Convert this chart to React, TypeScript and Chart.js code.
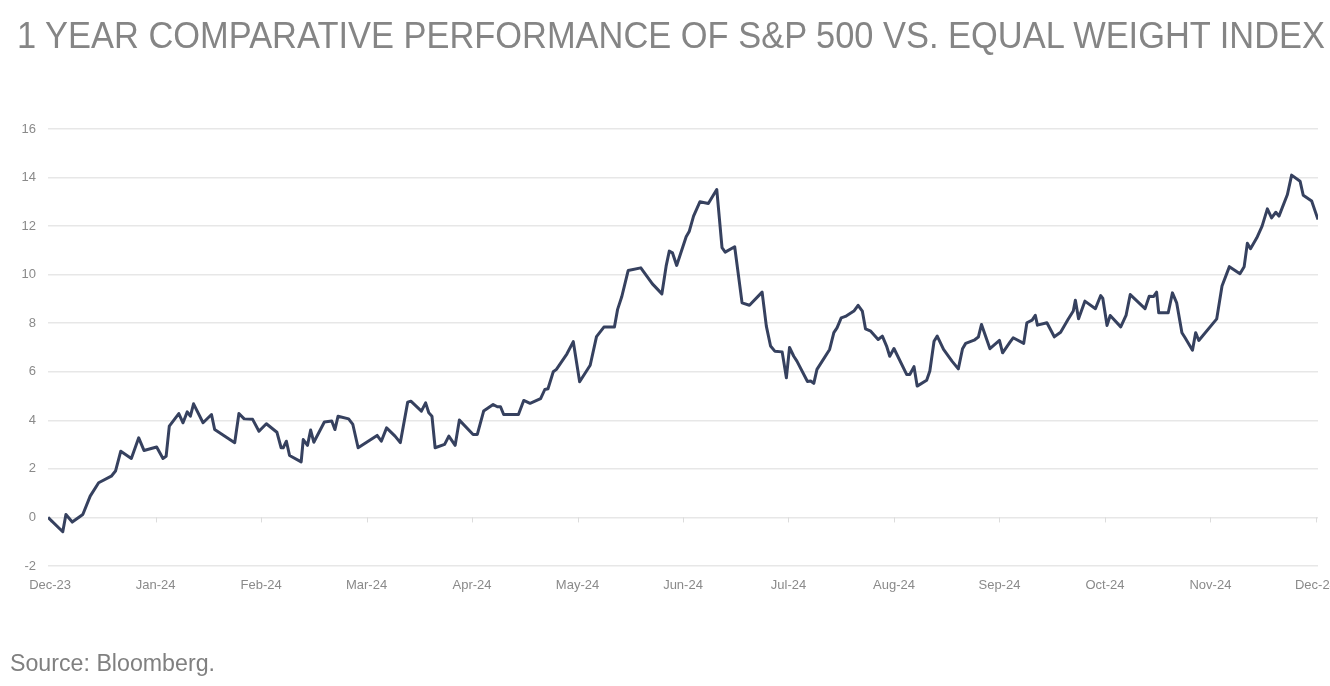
import React, { useEffect, useRef } from "react";
import { Chart, registerables } from "chart.js";

Chart.register(...registerables);

const titleText = "1 YEAR COMPARATIVE PERFORMANCE OF S&P 500 VS. EQUAL WEIGHT INDEX";
const sourceText = "Source: Bloomberg.";

const monthLabels = ["Dec-23", "Jan-24", "Feb-24", "Mar-24", "Apr-24", "May-24", "Jun-24", "Jul-24", "Aug-24", "Sep-24", "Oct-24", "Nov-24", "Dec-24"];
const monthTicks = [0, 1, 2, 3, 4, 5, 6, 7, 8, 9, 10, 11, 12];
const yTickValues = [-2, 0, 2, 4, 6, 8, 10, 12, 14, 16];

// time position in months since Dec-23
const months = [
  -0.02, 0.12, 0.15, 0.21, 0.31, 0.38, 0.46, 0.58, 0.62, 0.67, 0.77, 0.84, 0.89, 1.01, 1.07, 1.1, 1.13, 1.22, 1.26, 1.3,
  1.33, 1.36, 1.45, 1.53, 1.56, 1.75, 1.79, 1.84, 1.92, 1.98, 2.05, 2.15, 2.19, 2.21, 2.24, 2.27, 2.38, 2.4, 2.44, 2.47,
  2.5, 2.6, 2.67, 2.7, 2.73, 2.83, 2.87, 2.92, 3.1, 3.14, 3.19, 3.27, 3.32, 3.39, 3.42, 3.52, 3.56, 3.59, 3.62, 3.65,
  3.74, 3.78, 3.84, 3.88, 4.01, 4.05, 4.11, 4.2, 4.24, 4.27, 4.3, 4.44, 4.49, 4.55, 4.65, 4.69, 4.72, 4.77, 4.8, 4.9,
  4.96, 5.02, 5.12, 5.18, 5.25, 5.35, 5.38, 5.42, 5.48, 5.6, 5.71, 5.8, 5.84, 5.87, 5.9, 5.94, 6.03, 6.06, 6.1, 6.16,
  6.24, 6.32, 6.37, 6.4, 6.49, 6.56, 6.63, 6.75, 6.79, 6.83, 6.87, 6.94, 6.98, 7.01, 7.05, 7.08, 7.18, 7.21, 7.24, 7.27,
  7.32, 7.39, 7.43, 7.46, 7.5, 7.54, 7.62, 7.66, 7.7, 7.73, 7.78, 7.85, 7.89, 7.93, 7.96, 8.0, 8.12, 8.15, 8.19, 8.22,
  8.31, 8.34, 8.38, 8.41, 8.47, 8.55, 8.61, 8.65, 8.68, 8.76, 8.8, 8.83, 8.91, 9.0, 9.03, 9.1, 9.13, 9.23, 9.26, 9.31,
  9.34, 9.36, 9.45, 9.52, 9.58, 9.65, 9.7, 9.72, 9.75, 9.81, 9.91, 9.96, 9.98, 10.02, 10.05, 10.15, 10.2, 10.24, 10.38, 10.42,
  10.46, 10.49, 10.51, 10.6, 10.64, 10.68, 10.73, 10.76, 10.83, 10.86, 10.89, 11.06, 11.11, 11.18, 11.28, 11.32, 11.35, 11.38, 11.44, 11.49,
  11.54, 11.58, 11.62, 11.65, 11.73, 11.77, 11.85, 11.88, 11.96, 12.02,
];

// relative performance, %
const values = [
  0.0, -0.59, 0.12, -0.19, 0.12, 0.88, 1.43, 1.7, 1.91, 2.73, 2.43, 3.28, 2.76, 2.9, 2.43, 2.52, 3.76, 4.28, 3.9, 4.35,
  4.17, 4.68, 3.9, 4.24, 3.62, 3.08, 4.28, 4.06, 4.04, 3.55, 3.86, 3.51, 2.87, 2.87, 3.14, 2.55, 2.29, 3.21, 2.97, 3.6,
  3.1, 3.93, 3.97, 3.62, 4.17, 4.06, 3.83, 2.87, 3.38, 3.14, 3.69, 3.35, 3.08, 4.75, 4.79, 4.38, 4.72, 4.31, 4.17, 2.87,
  3.01, 3.35, 2.97, 4.01, 3.42, 3.42, 4.38, 4.65, 4.56, 4.56, 4.24, 4.24, 4.82, 4.7, 4.89, 5.27, 5.3, 6.0, 6.1, 6.74,
  7.24, 5.59, 6.27, 7.45, 7.84, 7.84, 8.57, 9.1, 10.17, 10.28, 9.62, 9.21, 10.35, 10.97, 10.9, 10.38, 11.56, 11.79, 12.41, 13.0,
  12.93, 13.51, 11.11, 10.93, 11.15, 8.84, 8.74, 9.28, 7.88, 7.06, 6.85, 6.82, 5.75, 7.0, 6.64, 6.44, 5.6, 5.62, 5.52, 6.1,
  6.44, 6.92, 7.61, 7.81, 8.22, 8.28, 8.5, 8.74, 8.5, 7.77, 7.67, 7.33, 7.47, 7.06, 6.64, 6.96, 5.89, 5.89, 6.21, 5.41,
  5.65, 6.03, 7.26, 7.47, 6.92, 6.44, 6.12, 6.95, 7.17, 7.3, 7.43, 7.95, 6.95, 7.29, 6.78, 7.22, 7.4, 7.17, 8.02, 8.13,
  8.33, 7.92, 8.02, 7.44, 7.63, 8.15, 8.5, 8.95, 8.18, 8.91, 8.6, 9.14, 9.02, 7.91, 8.32, 7.85, 8.32, 9.18, 8.6, 9.11,
  9.1, 9.28, 8.43, 8.43, 9.25, 8.84, 7.61, 7.4, 6.89, 7.61, 7.29, 8.18, 9.53, 10.33, 10.04, 10.33, 11.29, 11.07, 11.52, 12.0,
  12.71, 12.34, 12.57, 12.41, 13.3, 14.1, 13.85, 13.27, 13.03, 12.27,
];

const LINE_COLOR = "#36415f";
const GRID_COLOR = "#e7e7e7";
const TICK_COLOR = "#8a8a8a";
const TEXT_FONT = '"Liberation Sans Narrow", "Liberation Sans", Arial, sans-serif';

const zeroTickMarks = {
  id: "zeroTickMarks",
  beforeDatasetsDraw(chart: any) {
    const xs = chart.scales.x;
    const ys = chart.scales.y;
    const y0 = ys.getPixelForValue(0);
    const ctx = chart.ctx;
    ctx.save();
    ctx.strokeStyle = "#dcdcdc";
    ctx.lineWidth = 1;
    monthTicks.forEach((t) => {
      const x = Math.round(xs.getPixelForValue(t)) + 0.5;
      ctx.beginPath();
      ctx.moveTo(x, y0);
      ctx.lineTo(x, y0 + 5);
      ctx.stroke();
    });
    ctx.restore();
  },
};

export default function App() {
  const ref = useRef<HTMLCanvasElement>(null);

  useEffect(() => {
    if (!ref.current) return;
    const chart = new Chart(ref.current, {
      type: "line",
      data: {
        datasets: [
          {
            data: months.map((m, i) => ({ x: m, y: values[i] })),
            borderColor: LINE_COLOR,
            borderWidth: 3,
            pointRadius: 0,
            tension: 0,
            fill: false,
            borderJoinStyle: "round",
          },
        ],
      },
      options: {
        responsive: false,
        animation: false,
        layout: { padding: { top: 129, right: 32, left: 0, bottom: 0 } },
        plugins: { legend: { display: false }, tooltip: { enabled: false }, title: { display: false } },
        scales: {
          x: {
            type: "linear",
            min: -0.02,
            max: 12.02,
            afterBuildTicks: (axis: any) => {
              axis.ticks = monthTicks.map((v) => ({ value: v }));
            },
            afterFit: (s: any) => {
              s.height = 120;
            },
            grid: { display: false },
            border: { display: false },
            ticks: {
              autoSkip: false,
              maxRotation: 0,
              padding: 4,
              color: TICK_COLOR,
              font: { family: TEXT_FONT, size: 13 },
              callback: (v: any) => monthLabels[monthTicks.indexOf(Number(v))],
            },
          },
          y: {
            min: -2,
            max: 16,
            afterBuildTicks: (axis: any) => {
              axis.ticks = yTickValues.map((v) => ({ value: v }));
            },
            afterFit: (s: any) => {
              s.width = 48;
            },
            grid: { color: GRID_COLOR, lineWidth: 1.5, drawTicks: false },
            border: { display: false },
            ticks: {
              padding: 12,
              color: TICK_COLOR,
              font: { family: TEXT_FONT, size: 13 },
            },
          },
        },
      },
      plugins: [zeroTickMarks],
    });
    return () => chart.destroy();
  }, []);

  return (
    <div style={{ position: "absolute", left: 0, top: 0, width: 1330, height: 686, overflow: "hidden", background: "#fff" }}>
      <canvas ref={ref} width={1350} height={686} style={{ position: "absolute", left: 0, top: 0, width: 1350, height: 686 }} />
      <svg width={1330} height={686} style={{ position: "absolute", left: 0, top: 0 }}>
        <text x={17} y={48} fontFamily={TEXT_FONT} fontSize={36} fill="#858585" textLength={1308} lengthAdjust="spacingAndGlyphs">
          {titleText}
        </text>
        <text x={10} y={671} fontFamily={TEXT_FONT} fontSize={23} fill="#808080" textLength={205} lengthAdjust="spacingAndGlyphs">
          {sourceText}
        </text>
      </svg>
    </div>
  );
}
